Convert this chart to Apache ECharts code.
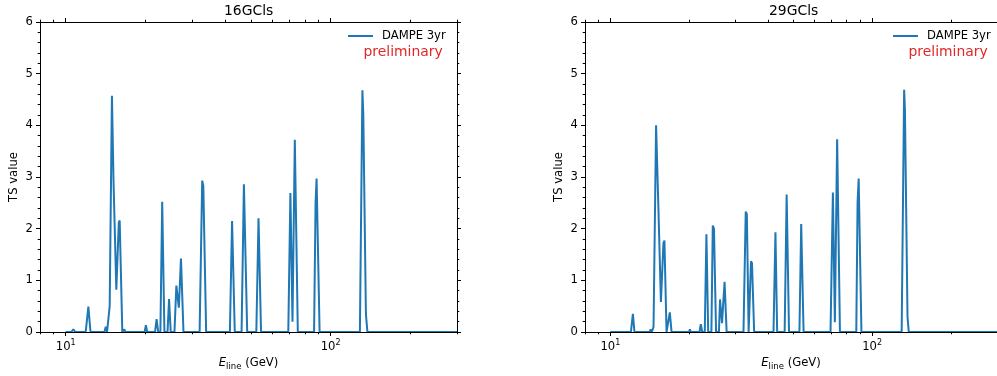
<!DOCTYPE html>
<html>
<head>
<meta charset="utf-8">
<script src="https://cdn.jsdelivr.net/npm/echarts@6/dist/echarts.min.js"></script>
<style>html,body{margin:0;padding:0;background:#fff}#c{width:997px;height:376px}</style>
</head>
<body>
<div id="c"></div>
<script>
// ---------- data ----------
const panelTitles = ['16GCls', '29GCls'];
const seriesName = 'DAMPE 3yr';
const noteText = 'preliminary';
const xMajorTicks = [10, 100];
const xMinorTicks = [8, 9, 20, 30, 40, 50, 60, 70, 80, 90, 200, 300];
const xRange = [8, 300];
const yRange = [0, 6];

// 16GCls panel: line energy (GeV) and TS value
const energy16 = [10, 10.50, 10.69, 10.87, 11.90, 12.18, 12.41, 14.00, 14.17, 14.33, 14.55, 14.66, 14.95, 15.16, 15.53, 15.87, 15.99, 16.36,
  16.52, 16.66, 16.81, 17.66, 17.82, 17.97, 18.77, 18.94, 19.10, 19.87, 20.08, 20.31, 21.74, 22.04, 22.35, 22.78, 23.14, 23.59,
  24.24, 24.56, 24.92, 25.74, 26.17, 26.74, 27.24, 27.84, 32.03, 32.76, 33.08, 33.90, 41.67, 42.47, 43.48, 46.13, 47.07, 48.44,
  52.44, 53.45, 54.63, 69.23, 70.51, 71.81, 73.27, 75.21, 86.62, 87.76, 88.53, 90.88, 129.0, 131.84, 132.88, 135.92, 137.71, 300];
const ts16 = [0, 0, 0.05, 0, 0, 0.49, 0, 0, 0.10, 0, 0.03, 0.5, 4.57, 2.9, 0.82, 2.12, 2.16, 0,
  0, 0.05, 0, 0, 0.02, 0, 0, 0.03, 0, 0, 0.13, 0, 0, 0.25, 0, 0, 2.52, 0,
  0, 0.64, 0, 0, 0.9, 0.47, 1.42, 0, 0, 2.93, 2.83, 0, 0, 2.15, 0, 0, 2.86, 0,
  0, 2.2, 0, 0, 2.69, 0.2, 3.72, 0, 0, 2.5, 2.97, 0, 0, 4.68, 4.2, 0.35, 0, 0];

// 29GCls panel
const energy29 = [10, 11.98, 12.19, 12.36, 14.11, 14.26, 14.40, 14.62, 14.95, 15.24, 15.60, 15.95, 16.09, 16.39, 16.63, 16.87, 17.13,
  19.96, 20.13, 20.31, 21.91, 22.16, 22.43, 22.94, 23.28, 23.65, 24.32, 24.62, 24.88, 25.34, 25.99, 26.24, 26.70, 27.31, 27.81,
  32.25, 32.90, 33.22, 33.75, 34.46, 34.76, 35.43, 42.00, 42.73, 43.37, 46.33, 47.15, 48.14, 52.76, 53.59, 54.72,
  69.36, 70.82, 72.06, 73.52, 75.34, 87.00, 87.99, 88.84, 91.03, 129.68, 132.54, 133.47, 136.51, 138.04, 300];
const ts29 = [0, 0, 0.35, 0, 0, 0.05, 0, 0.1, 4.0, 2.5, 0.58, 1.72, 1.77, 0, 0, 0.38, 0,
  0, 0.05, 0, 0, 0.15, 0, 0, 1.89, 0, 0, 2.06, 2.0, 0, 0, 0.63, 0.17, 0.97, 0,
  0, 2.33, 2.28, 0, 1.37, 1.33, 0, 0, 1.93, 0, 0, 2.66, 0, 0, 2.09, 0,
  0, 2.7, 0.19, 3.73, 0, 0, 2.5, 2.97, 0, 0, 4.69, 4.3, 0.3, 0, 0];

// ---------- layout ----------
const FONT = 'DejaVu Sans';
const gridLefts = [40, 585];
const gridW = 417, gridTop = 22, gridH = 310;
const energies = [energy16, energy29];
const tsVals = [ts16, ts29];

const grids = [], xAxes = [], yAxes = [], series = [], legends = [], titles = [];
for (let i = 0; i < 2; i++) {
  grids.push({ left: gridLefts[i], top: gridTop, width: gridW, height: gridH });
  const base = { type: 'log', logBase: 10, gridIndex: i, min: xRange[0], max: xRange[1], splitLine: { show: false }, z: 3 };
  // bottom major (with labels)
  xAxes.push(Object.assign({}, base, {
    position: 'bottom',
    axisLine: { show: true, lineStyle: { color: '#000', width: 1 } },
    axisTick: { show: true, customValues: xMajorTicks, length: 4, lineStyle: { color: '#000', width: 1 } },
    axisLabel: {
      show: true, customValues: xMajorTicks, margin: 7, color: '#000', fontFamily: FONT, fontSize: 11.6,
      formatter: v => '10{sup|' + Math.round(Math.log10(v)) + '}',
      rich: { sup: { fontSize: 8, fontFamily: FONT, color: '#000', padding: [0, 0, 7, 0] } }
    },
    name: '{i|E}{s|line} (GeV)', nameLocation: 'middle', nameGap: 23,
    nameTextStyle: { color: '#000', fontFamily: FONT, fontSize: 11.6,
      rich: { i: { fontStyle: 'italic', fontFamily: FONT, fontSize: 11.6, color: '#000' },
              s: { fontFamily: FONT, fontSize: 8.5, color: '#000', padding: [6, 0, 0, 0] } } }
  }));
  // bottom minor
  xAxes.push(Object.assign({}, base, {
    position: 'bottom', axisLine: { show: false },
    axisTick: { show: true, customValues: xMinorTicks, length: 2.3, lineStyle: { color: '#000', width: 1 } },
    axisLabel: { show: false }
  }));
  // top major
  xAxes.push(Object.assign({}, base, {
    position: 'top',
    axisLine: { show: true, lineStyle: { color: '#000', width: 1 } },
    axisTick: { show: true, customValues: xMajorTicks, length: 4, lineStyle: { color: '#000', width: 1 } },
    axisLabel: { show: false }
  }));
  // top minor
  xAxes.push(Object.assign({}, base, {
    position: 'top', axisLine: { show: false },
    axisTick: { show: true, customValues: xMinorTicks, length: 2.3, lineStyle: { color: '#000', width: 1 } },
    axisLabel: { show: false }
  }));
  const ybase = { type: 'value', gridIndex: i, min: yRange[0], max: yRange[1], interval: 1, splitLine: { show: false }, z: 3,
    axisLine: { show: true, lineStyle: { color: '#000', width: 1 } },
    axisTick: { show: true, length: 4, lineStyle: { color: '#000', width: 1 } },
    minorTick: { show: true, splitNumber: 5, length: 2.3, lineStyle: { color: '#000', width: 1 } } };
  yAxes.push(Object.assign({}, ybase, {
    position: 'left',
    axisLabel: { show: true, margin: 7, color: '#000', fontFamily: FONT, fontSize: 11.6 },
    name: 'TS value', nameLocation: 'middle', nameGap: 20, nameRotate: 90,
    nameTextStyle: { color: '#000', fontFamily: FONT, fontSize: 11.6 }
  }));
  yAxes.push(Object.assign({}, ybase, { position: 'right', axisLabel: { show: false } }));

  series.push({
    type: 'line', name: seriesName, xAxisIndex: i * 4, yAxisIndex: i * 2,
    data: energies[i].map((e, k) => [e, tsVals[i][k]]),
    showSymbol: false, symbol: 'none', smooth: false,
    lineStyle: { color: '#1f77b4', width: 2 }, itemStyle: { color: '#1f77b4' },
    z: 2, animation: false
  });

  const gx = gridLefts[i];
  legends.push({
    data: [seriesName], left: gx + 308, top: 30, padding: 0,
    icon: 'rect', itemWidth: 25, itemHeight: 2,
    textStyle: { color: '#000', fontFamily: FONT, fontSize: 11.6, padding: [0, 0, 0, 4] }
  });
  titles.push({ text: panelTitles[i], left: gx + 184, top: 4, padding: 0,
    textStyle: { color: '#000', fontFamily: FONT, fontSize: 13.9, fontWeight: 'normal' } });
  titles.push({ text: noteText, left: gx + 323.5, top: 45, padding: 0,
    textStyle: { color: '#e32626', fontFamily: FONT, fontSize: 13.9, fontWeight: 'normal' } });
}

const chart = echarts.init(document.getElementById('c'), null, { renderer: 'canvas' });
chart.setOption({
  animation: false,
  backgroundColor: '#fff',
  title: titles,
  legend: legends,
  grid: grids,
  xAxis: xAxes,
  yAxis: yAxes,
  series: series
});
</script>
</body>
</html>
